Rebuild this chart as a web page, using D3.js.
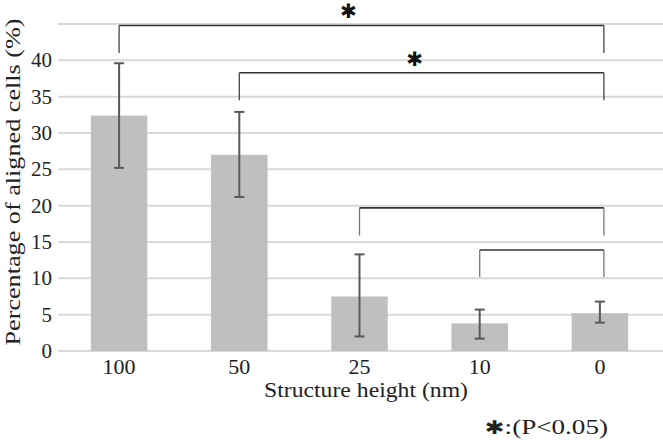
<!DOCTYPE html>
<html><head><meta charset="utf-8">
<script src="https://cdn.jsdelivr.net/npm/d3@7"></script>
<style>body{margin:0;background:#fff} text{font-family:"Liberation Serif","Times New Roman",serif;} .star{font-family:"DejaVu Sans",sans-serif;}</style>
</head><body><svg id="c" width="663" height="440"></svg>
<script>
const categories = ["100","50","25","10","0"];
const means = [32.4, 27.0, 7.5, 3.8, 5.2];
const errUpper = [39.6, 32.9, 13.3, 5.7, 6.8];
const errLower = [25.2, 21.2, 2.0, 1.7, 3.9];
const yTicks = [0,5,10,15,20,25,30,35,40];
const gridValues = [0,5,10,15,20,25,30,35,40,45];
// significance brackets
const brackets = [
  {from:"100", to:"0", level:44.8, drop:41.0, star:true},
  {from:"50", to:"0", level:38.3, drop:34.5, star:true},
  {from:"25", to:"0", level:19.7, drop:15.9, star:false},
  {from:"10", to:"0", level:13.9, drop:10.2, star:false}
];

const svg = d3.select("#c");
const x = d3.scaleBand().domain(categories).range([59, 660]).paddingInner(0.53).paddingOuter(0.265);
const y = d3.scaleLinear().domain([0,45]).range([351,24]);

svg.append("g").selectAll("line").data(gridValues).join("line")
  .attr("x1",58).attr("x2",663).attr("y1",d=>y(d)).attr("y2",d=>y(d))
  .attr("stroke","#d9d9d9").attr("stroke-width",2);

svg.append("g").selectAll("text").data(yTicks).join("text")
  .attr("x",52).attr("y",d=>y(d)+7).attr("text-anchor","end")
  .attr("font-size",21).attr("fill","#222").text(d=>d);

svg.append("g").selectAll("rect").data(categories).join("rect")
  .attr("x",d=>x(d)).attr("width",x.bandwidth())
  .attr("y",(d,i)=>y(means[i])).attr("height",(d,i)=>y(0)-y(means[i]))
  .attr("fill","#bfbfbf");

const eb = svg.append("g").attr("stroke","#595959").attr("stroke-width",2);
categories.forEach((c,i)=>{
  const cx = x(c)+x.bandwidth()/2;
  eb.append("line").attr("x1",cx).attr("x2",cx).attr("y1",y(errUpper[i])).attr("y2",y(errLower[i]));
  [errUpper[i],errLower[i]].forEach(v=>eb.append("line").attr("x1",cx-5).attr("x2",cx+5).attr("y1",y(v)).attr("y2",y(v)));
});

svg.append("g").selectAll("text").data(categories).join("text")
  .attr("x",d=>x(d)+x.bandwidth()/2).attr("y",374).attr("text-anchor","middle")
  .attr("font-size",22).attr("fill","#222").text(d=>d);

const starShift = [-13, -7];
const bg = svg.append("g");
brackets.forEach((b,i)=>{
  const x1 = x(b.from)+x.bandwidth()/2;
  const x2 = x(b.to)+x.bandwidth()/2+4;
  bg.append("line").attr("x1",x1).attr("x2",x2).attr("y1",y(b.level)).attr("y2",y(b.level))
    .attr("stroke","#333").attr("stroke-width",1.6);
  [x1,x2].forEach(xx=>bg.append("line").attr("x1",xx).attr("x2",xx).attr("y1",y(b.level)).attr("y2",y(b.drop))
    .attr("stroke", b.star ? "#444" : "#777").attr("stroke-width",1.3));
  if(b.star){
    bg.append("text").attr("class","star").attr("x",(x1+x2)/2+starShift[i]).attr("y",y(b.level)-14)
      .attr("text-anchor","middle").attr("dominant-baseline","central")
      .attr("font-size",20).attr("fill","#111").text("✱");
  }
});

svg.append("text").attr("transform","translate(20,182) rotate(-90)").attr("text-anchor","middle")
  .attr("font-size",22).attr("fill","#222").attr("textLength",327).attr("lengthAdjust","spacingAndGlyphs")
  .text("Percentage of aligned cells (%)");
svg.append("text").attr("x",366).attr("y",397).attr("text-anchor","middle")
  .attr("font-size",22).attr("fill","#222").attr("textLength",204).attr("lengthAdjust","spacingAndGlyphs")
  .text("Structure height (nm)");
const fn = svg.append("text").attr("x",485).attr("y",434).attr("font-size",22).attr("fill","#222")
  .attr("textLength",123).attr("lengthAdjust","spacingAndGlyphs");
fn.append("tspan").attr("class","star").attr("font-size",19).text("✱");
fn.append("tspan").text(":(P<0.05)");
</script></body></html>
